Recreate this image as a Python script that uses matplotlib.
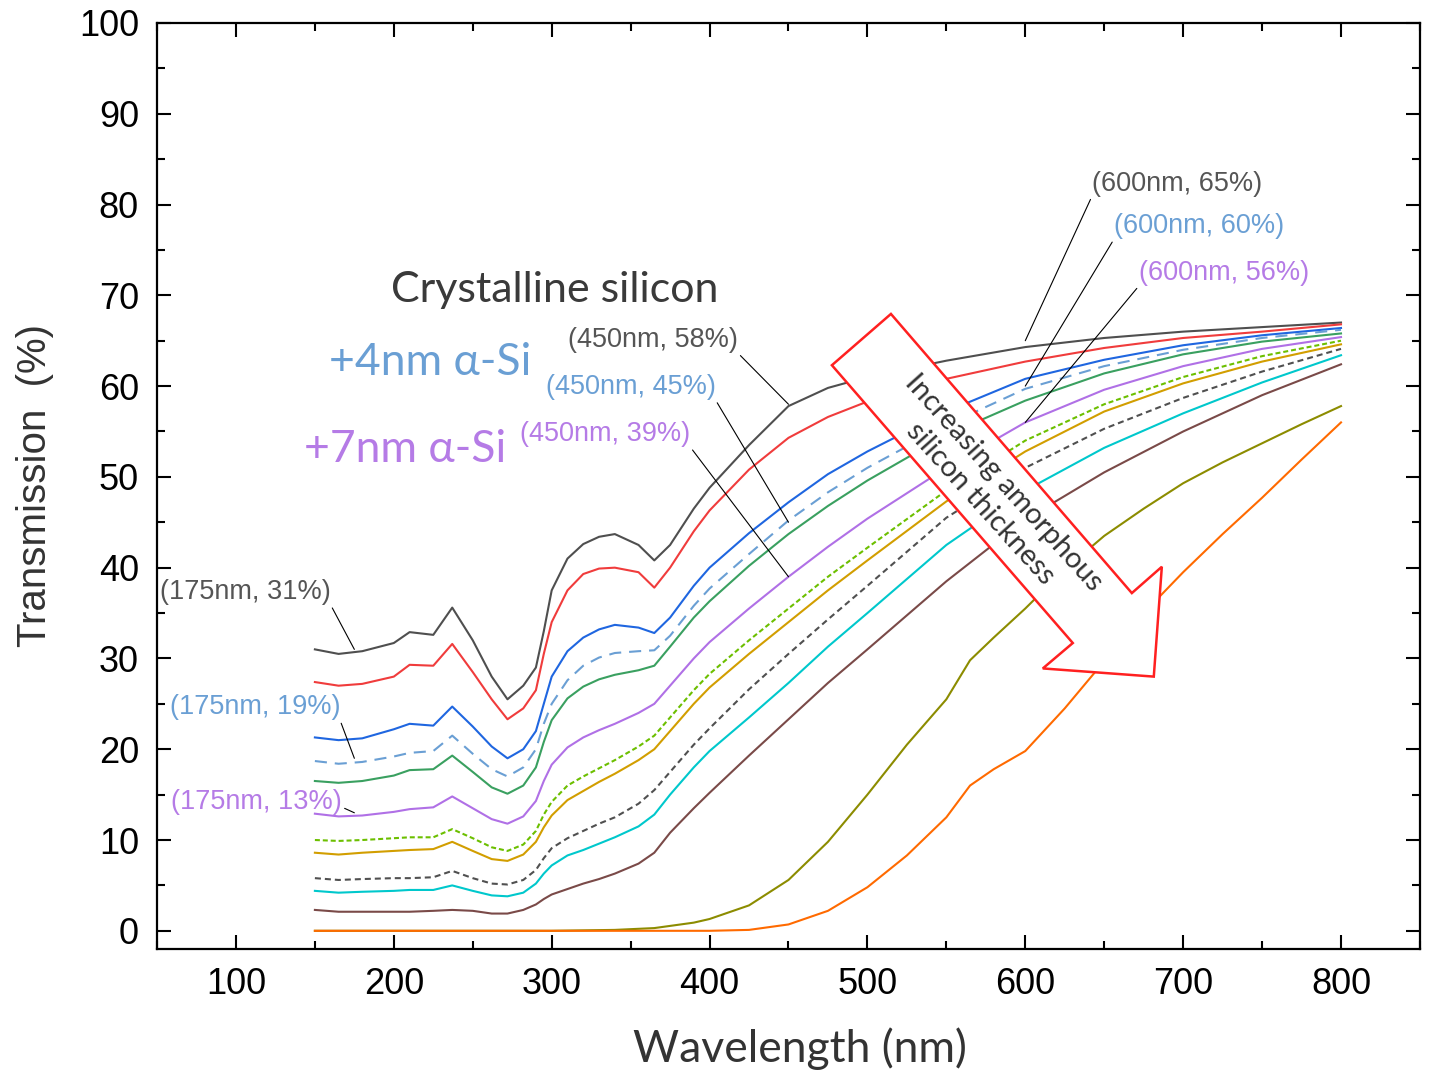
import matplotlib
matplotlib.use("Agg")
import matplotlib.pyplot as plt
from matplotlib.patches import Polygon

# wavelength grid (nm) for the crystalline / thin a-Si curves
wl = [150, 165, 180, 200, 210, 225, 237, 250, 262, 272, 282, 290, 295, 300, 310, 320, 330,
      340, 355, 365, 375, 390, 400, 425, 450, 475, 500, 550, 600, 650, 700, 750, 800]

c_si = [31.0, 30.5, 30.8, 31.7, 32.9, 32.6, 35.6, 32.0, 28.0, 25.5, 27.0, 29.0, 33.0, 37.5, 41.0, 42.6, 43.4,
        43.7, 42.5, 40.8, 42.5, 46.5, 48.8, 53.5, 57.8, 59.8, 61.0, 62.8, 64.3, 65.3, 66.0, 66.5, 67.0]
red = [27.4, 27.0, 27.2, 28.0, 29.3, 29.2, 31.6, 28.5, 25.5, 23.3, 24.5, 26.5, 30.5, 34.0, 37.5, 39.3, 39.9,
       40.0, 39.5, 37.8, 40.0, 44.0, 46.3, 50.8, 54.3, 56.6, 58.3, 60.8, 62.7, 64.2, 65.3, 66.0, 66.8]
blue = [21.3, 21.0, 21.2, 22.2, 22.8, 22.6, 24.7, 22.5, 20.3, 19.0, 20.0, 22.0, 25.0, 28.0, 30.8, 32.3, 33.2,
        33.7, 33.4, 32.8, 34.5, 38.0, 40.0, 43.8, 47.2, 50.3, 52.8, 57.2, 60.8, 62.9, 64.5, 65.6, 66.4]
si_4nm = [18.7, 18.4, 18.6, 19.2, 19.6, 19.8, 21.5, 19.5, 17.8, 17.0, 18.0, 20.0, 22.8, 25.0, 27.6, 29.2, 30.1,
          30.6, 30.8, 30.9, 32.5, 35.8, 37.7, 41.5, 45.2, 48.3, 51.0, 55.7, 59.7, 62.2, 64.0, 65.3, 66.2]
green = [16.5, 16.3, 16.5, 17.1, 17.7, 17.8, 19.3, 17.5, 15.8, 15.1, 16.0, 18.0, 20.8, 23.2, 25.6, 26.9, 27.7,
         28.2, 28.7, 29.2, 31.3, 34.5, 36.3, 40.2, 43.7, 46.8, 49.6, 54.6, 58.4, 61.4, 63.5, 64.9, 65.8]
si_7nm = [12.9, 12.6, 12.7, 13.1, 13.4, 13.6, 14.8, 13.5, 12.3, 11.8, 12.6, 14.3, 16.5, 18.3, 20.2, 21.3, 22.1,
          22.8, 24.0, 25.0, 27.0, 30.0, 31.8, 35.5, 39.0, 42.3, 45.4, 51.0, 56.0, 59.6, 62.2, 64.1, 65.4]
lime = [10.0, 9.9, 10.0, 10.2, 10.3, 10.3, 11.2, 10.2, 9.2, 8.8, 9.5, 11.0, 12.8, 14.2, 16.0, 17.0, 17.9,
        18.8, 20.3, 21.5, 23.5, 26.5, 28.3, 32.0, 35.5, 39.0, 42.2, 48.5, 54.0, 58.0, 61.0, 63.3, 65.0]
gold = [8.6, 8.4, 8.6, 8.8, 8.9, 9.0, 9.8, 8.8, 7.9, 7.7, 8.4, 9.8, 11.4, 12.7, 14.4, 15.4, 16.4,
        17.3, 18.8, 20.0, 22.0, 25.0, 26.8, 30.5, 34.0, 37.5, 40.8, 47.3, 52.8, 57.2, 60.3, 62.7, 64.6]
grey_dash = [5.8, 5.6, 5.7, 5.8, 5.8, 5.9, 6.6, 5.8, 5.2, 5.1, 5.6, 6.7, 8.0, 9.1, 10.2, 11.0, 11.8,
             12.5, 14.0, 15.5, 17.5, 20.5, 22.3, 26.6, 30.5, 34.3, 38.0, 45.5, 51.0, 55.3, 58.7, 61.6, 64.1]
cyan = [4.4, 4.2, 4.3, 4.4, 4.5, 4.5, 5.0, 4.4, 3.9, 3.8, 4.2, 5.2, 6.3, 7.2, 8.3, 8.9, 9.6,
        10.3, 11.5, 12.8, 15.0, 18.0, 19.8, 23.5, 27.3, 31.3, 35.0, 42.5, 48.5, 53.2, 57.0, 60.4, 63.4]
brown = [2.3, 2.1, 2.1, 2.1, 2.1, 2.2, 2.3, 2.2, 1.9, 1.9, 2.3, 2.9, 3.5, 4.0, 4.6, 5.2, 5.7,
         6.3, 7.4, 8.6, 10.8, 13.5, 15.2, 19.3, 23.3, 27.3, 31.0, 38.5, 45.3, 50.5, 55.0, 59.0, 62.4]

# thick a-Si curves, own grid
wl_thick = [150, 300, 340, 365, 390, 400, 425, 450, 475, 500, 525, 550, 565, 580,
            600, 625, 650, 675, 700, 725, 750, 775, 800]
olive = [0.0, 0.0, 0.1, 0.3, 0.9, 1.3, 2.8, 5.6, 9.8, 15.0, 20.5, 25.5, 29.8, 32.3,
         35.5, 39.8, 43.5, 46.5, 49.3, 51.6, 53.7, 55.8, 57.8]
orange = [0.0, 0.0, 0.0, 0.0, 0.0, 0.0, 0.1, 0.7, 2.2, 4.8, 8.3, 12.5, 16.0, 17.8,
          19.8, 24.5, 29.7, 35.0, 39.5, 43.7, 47.7, 51.9, 56.0]

# labelled points (wavelength, transmission)
label_pts = [(600, 65), (600, 60), (600, 56),
             (450, 58), (450, 45), (450, 39),
             (175, 31), (175, 19), (175, 13)]

GREY_TXT = "#555555"
BLUE_TXT = "#6a9fd4"
PURP_TXT = "#b57be6"

fig = plt.figure(figsize=(14.34, 10.73), dpi=100)
ax = fig.add_axes([0.1095, 0.1156, 0.8807, 0.863])

curves = [
    (c_si, "#4f4f4f", "-"),
    (red, "#f03c3c", "-"),
    (blue, "#1f66e0", "-"),
    (si_4nm, "#6a9fd4", (0, (5.8, 3.8))),
    (green, "#3aa060", "-"),
    (si_7nm, "#b070e6", "-"),
    (lime, "#6cbf00", (0, (2.4, 1.4))),
    (gold, "#d29e00", "-"),
    (grey_dash, "#505050", (0, (2.9, 1.9))),
    (cyan, "#00c8cc", "-"),
    (brown, "#7a4a48", "-"),
]
for ys, col, ls in curves:
    ax.plot(wl, ys, color=col, ls=ls, lw=1.5, zorder=2)
ax.plot(wl_thick, olive, color="#8c8c00", lw=1.5, zorder=2)
ax.plot(wl_thick, orange, color="#ff6a00", lw=1.5, zorder=2)

ax.set_xlim(50, 850)
ax.set_ylim(-2, 100)
ax.set_xticks(range(100, 801, 100))
ax.set_xticks(range(50, 851, 50), minor=True)
ax.set_yticks(range(0, 101, 10))
ax.set_yticks(range(0, 101, 5), minor=True)
ax.tick_params(which="both", direction="in", top=True, right=True, width=1.5)
ax.tick_params(which="major", length=10, pad=13, labelsize=26)
ax.tick_params(which="minor", length=6)
for lab in ax.get_xticklabels() + ax.get_yticklabels():
    lab.set_family("Liberation Sans")
for sp in ax.spines.values():
    sp.set_linewidth(1.6)

ax.set_xlabel("Wavelength (nm)", family="Lato", fontsize=32, color="#333333", labelpad=18)
ax.xaxis.label.set_x(0.509)
ax.set_ylabel("Transmission  (%)", family="Liberation Sans", fontsize=29, color="#333333", labelpad=18)

# point labels
text_pos = [(696, 82.3), (710, 77.6), (726, 72.5),
            (364, 65.1), (350, 59.9), (334, 54.7),
            (106, 37.3), (112, 24.6), (113, 14.2)]
text_col = [GREY_TXT, BLUE_TXT, PURP_TXT] * 3
rel = [(0, 0)] * 3 + [(1, 0)] * 3 + [(1, 0), (1, 0), (1, 0.3)]
for (x, y), (tx, ty), col, rp in zip(label_pts, text_pos, text_col, rel):
    ax.annotate(f"({x}nm, {y}%)", xy=(x, y), xytext=(tx, ty),
                ha="center", va="center", fontsize=19.5, color=col,
                family="Liberation Sans", zorder=5,
                arrowprops=dict(arrowstyle="-", color="black", lw=0.8,
                                relpos=rp, shrinkA=0, shrinkB=0))

ax.text(302, 70.6, "Crystalline silicon", ha="center", va="center",
        fontsize=31, color="#3a3a3a", family=["Lato", "DejaVu Sans"])
ax.text(223, 62.6, "+4nm \u03b1-Si", ha="center", va="center",
        fontsize=32, color=BLUE_TXT, family=["Lato", "DejaVu Sans"])
ax.text(207, 53.0, "+7nm \u03b1-Si", ha="center", va="center",
        fontsize=32, color=PURP_TXT, family=["Lato", "DejaVu Sans"])

# block arrow
arrow = Polygon([(514.9, 67.95), (667.5, 37.2), (686.5, 40.1), (681.4, 28.0),
                 (611.1, 28.9), (630.1, 31.7), (477.5, 62.3)],
                closed=True, facecolor="white", edgecolor="#ff2020", lw=1.8, zorder=6)
ax.add_patch(arrow)
ax.text(578.8, 48.2, "Increasing amorphous\nsilicon thickness", ha="center", va="center",
        rotation=-48, rotation_mode="anchor", fontsize=21, color="#333333",
        family="Lato", linespacing=1.25, zorder=7)

fig.savefig("out.png", dpi=100)
